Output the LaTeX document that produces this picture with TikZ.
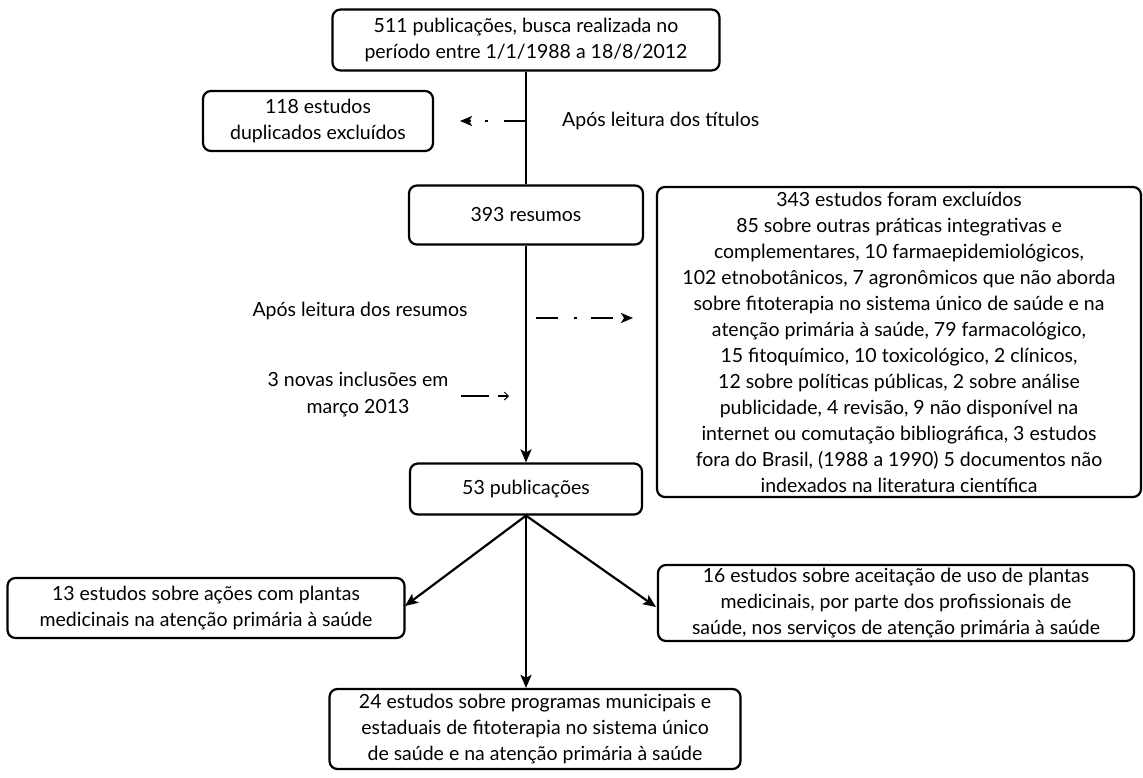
\documentclass[tikz,border=0pt]{standalone}
\usepackage{fontspec}
\setmainfont{Lato}
\usetikzlibrary{arrows.meta}
\begin{document}
\begin{tikzpicture}[x=1pt,y=-1pt,
  box/.style={draw,line width=2.2pt,rounded corners=8pt,align=center,inner sep=2pt,font=\fontsize{19.5}{26}\selectfont},
  lbl/.style={align=center,inner sep=0pt,font=\fontsize{19.5}{27}\selectfont},
  conn/.style={line width=2.2pt},
  arr/.style={line width=2.2pt,-{Stealth[length=13pt,width=11pt,inset=3pt]}},
  dda/.style={line width=2.2pt,dash pattern=on 22pt off 16pt on 3pt off 14pt,-{Stealth[length=12pt,width=10pt,inset=3pt]}}]
\useasboundingbox (0,0) rectangle (1143,777);
\node[box,minimum width=387pt,minimum height=61pt] (top) at (526,40) {511 publicações, busca realizada no\\período entre 1/1/1988 a 18/8/2012};
\node[box,minimum width=230pt,minimum height=60pt] (dup) at (318,121) {118 estudos\\duplicados excluídos};
\node[box,minimum width=234pt,minimum height=59pt] (res) at (526,215) {393 resumos};
\node[box,minimum width=484pt,minimum height=310pt] (exc) at (899,342) {343 estudos foram excluídos\\85 sobre outras práticas integrativas e\\complementares, 10 farmaepidemiológicos,\\102 etnobotânicos, 7 agronômicos que não aborda\\sobre fitoterapia no sistema único de saúde e na\\atenção primária à saúde, 79 farmacológico,\\15 fitoquímico, 10 toxicológico, 2 clínicos,\\12 sobre políticas públicas, 2 sobre análise\\publicidade, 4 revisão, 9 não disponível na\\internet ou comutação bibliográfica, 3 estudos\\fora do Brasil, (1988 a 1990) 5 documentos não\\indexados na literatura científica};
\node[box,minimum width=232pt,minimum height=51pt] (pub) at (526,489) {53 publicações};
\node[box,minimum width=397pt,minimum height=60pt] (a13) at (206,608) {13 estudos sobre ações com plantas\\medicinais na atenção primária à saúde};
\node[box,minimum width=476pt,minimum height=76pt] (a16) at (896,603) {16 estudos sobre aceitação de uso de plantas\\medicinais, por parte dos profissionais de\\saúde, nos serviços de atenção primária à saúde};
\node[box,minimum width=411pt,minimum height=80pt] (a24) at (535,729) {24 estudos sobre programas municipais e\\estaduais de fitoterapia no sistema único\\de saúde e na atenção primária à saúde};
\node[lbl,anchor=west] (l1) at (562,121) {Após leitura dos títulos};
\node[lbl] (l2) at (360,311) {Após leitura dos resumos};
\node[lbl] (l3) at (358,395) {3 novas inclusões em\\março 2013};
\coordinate (d1s) at (526,121);
\coordinate (d1e) at (460,121);
\coordinate (d2s) at (536,318);
\coordinate (d2e) at (633,318);
\coordinate (d3s) at (461,396);
\coordinate (d3e) at (509,396);
\coordinate (t13) at (405,606);
\coordinate (t16) at (656,607);
\draw[conn] (top.south) -- (res.north);
\draw[arr] (res.south) -- (pub.north);
\draw[dda] (d1s) -- (d1e);
\draw[dda] (d2s) -- (d2e);
\draw[line width=2.2pt,dash pattern=on 28pt off 9pt,-{Straight Barb[length=4pt,width=8pt,line width=1pt]}] (d3s) -- (d3e);
\draw[arr] (pub.south) -- (t13);
\draw[arr] (pub.south) -- (t16);
\draw[arr] (pub.south) -- (pub.south |- a24.north);
\end{tikzpicture}
\end{document}
